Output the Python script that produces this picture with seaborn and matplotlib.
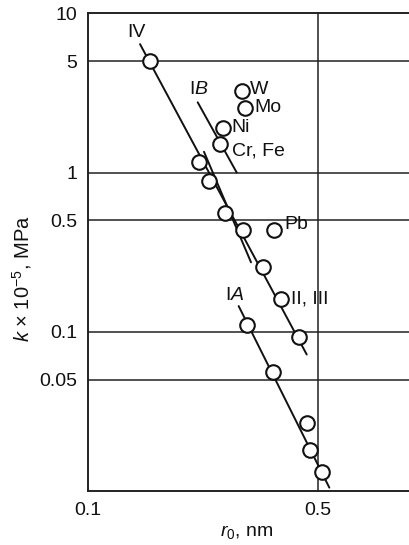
import numpy as np
import pandas as pd
import seaborn as sns
import matplotlib
matplotlib.use("Agg")
import matplotlib.pyplot as plt

# measured points r0 (nm), k x 1e-5 (MPa)
r0 = [0.154, 0.295, 0.300, 0.257, 0.253, 0.218, 0.2335, 0.262, 0.297, 0.369,
      0.341, 0.387, 0.439, 0.304, 0.365, 0.463, 0.474, 0.515]
k = [5.0, 3.27, 2.53, 1.9, 1.52, 1.17, 0.89, 0.555, 0.433, 0.433,
     0.255, 0.16, 0.093, 0.110, 0.056, 0.0268, 0.0181, 0.0132]

# fitted lines (end points)
line_iv_x = [0.144, 0.463]
line_iv_y = [6.4, 0.072]
line_ib_x = [0.2157, 0.2835]
line_ib_y = [2.76, 1.0]
line_mid_x = [0.2254, 0.3134]
line_mid_y = [1.35, 0.273]
line_ia_x = [0.2874, 0.5425]
line_ia_y = [0.145, 0.0105]

# labels
lab_text = ["IV", "I$B$", "W", "Mo", "Ni", "Cr, Fe", "Pb", "II, III", "I$A$"]
lab_x = [0.1407, 0.2177, 0.310, 0.320, 0.274, 0.274, 0.396, 0.415, 0.279]
lab_y = [7.6, 3.3, 3.3, 2.55, 1.93, 1.36, 0.47, 0.16, 0.17]
lab_ha = ["center", "center", "left", "left", "left", "left", "left", "left", "center"]

yticks = [10, 5, 1, 0.5, 0.1, 0.05]
ytick_labels = ["10", "5", "1", "0.5", "0.1", "0.05"]
xticks = [0.1, 0.5, 1]
xtick_labels = ["0.1", "0.5", "1"]

sns.set_style("white")
plt.rcParams["font.family"] = ["Liberation Sans", "DejaVu Sans"]
plt.rcParams["mathtext.fontset"] = "custom"
plt.rcParams["mathtext.rm"] = "Liberation Sans"
plt.rcParams["mathtext.it"] = "Liberation Sans:italic"

fig = plt.figure(figsize=(4.09, 5.45), dpi=100)
ax = fig.add_axes([88 / 409, 54 / 545, 328.6 / 409, 477.7 / 545])
ax.set_xscale("log")
ax.set_yscale("log")
ax.set_xlim(0.1, 1)
ax.set_ylim(0.01, 10)

for yv in [5, 1, 0.5, 0.1, 0.05]:
    ax.axhline(yv, color="#222222", lw=1.1, zorder=1)
ax.axvline(0.5, color="#222222", lw=1.1, zorder=1)

for lx, ly in [(line_iv_x, line_iv_y), (line_ib_x, line_ib_y),
               (line_mid_x, line_mid_y), (line_ia_x, line_ia_y)]:
    sns.lineplot(x=lx, y=ly, ax=ax, color="#111111", lw=1.4, zorder=2)

df = pd.DataFrame({"r0": r0, "k": k})
sns.scatterplot(data=df, x="r0", y="k", ax=ax, s=110, facecolor="white",
                edgecolor="#111111", linewidth=1.5, zorder=3)

for t, x, y, ha in zip(lab_text, lab_x, lab_y, lab_ha):
    ax.text(x, y, t, ha=ha, va="center", fontsize=14, color="#111111", zorder=4)

ax.set_xticks(xticks)
ax.set_xticklabels(xtick_labels)
ax.set_yticks(yticks)
ax.set_yticklabels(ytick_labels)
ax.minorticks_off()
ax.tick_params(length=0, labelsize=14, colors="#111111")
ax.tick_params(axis="y", pad=8)
ax.tick_params(axis="x", pad=8)
for s in ax.spines.values():
    s.set_color("#222222")
    s.set_linewidth(1.4)

ax.set_xlabel("$r_0$, nm", fontsize=14, color="#111111")
ax.set_ylabel("$k$ × 10$^{-5}$, MPa", fontsize=14.5, color="#111111")
ax.xaxis.set_label_coords(159 / 328.6, -32 / 477.7)
ax.yaxis.set_label_coords(-54 / 328.6, 0.445)

fig.savefig("out.png", dpi=100)
